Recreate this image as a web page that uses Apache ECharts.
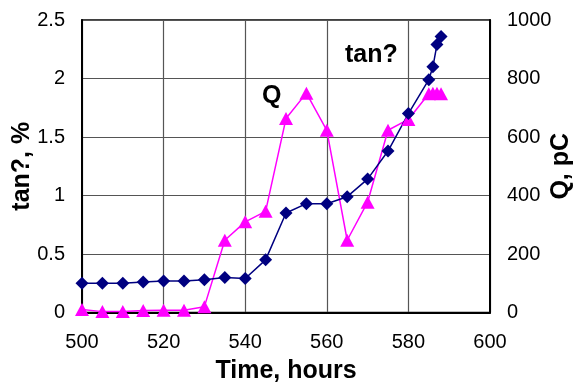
<!DOCTYPE html>
<html><head><meta charset="utf-8">
<script src="https://cdn.jsdelivr.net/npm/echarts@6/dist/echarts.min.js"></script>
<style>html,body{margin:0;padding:0;background:#fff}#c{width:575px;height:385px}</style>
</head><body><div id="c"></div>
<script>
const tanTime = [500,505,510,515,520,525,530,535,540,545,550,555,560,565,570,575,580,585,586,587,588];
const tanVal  = [0.25,0.25,0.25,0.26,0.27,0.27,0.28,0.30,0.29,0.45,0.85,0.93,0.93,0.99,1.14,1.38,1.70,1.99,2.10,2.29,2.36];
const qTime = [500,505,510,515,520,525,530,535,540,545,550,555,560,565,570,575,580,585,586,587,588];
const qVal  = [10,3,3,7,8,8,20,247,310,346,663,750,623,247,377,623,660,748,750,750,748];
const xTicks = [500,520,540,560,580,600];

const chart = echarts.init(document.getElementById('c'), null, {renderer:'canvas'});
const ff = '"Liberation Sans", Arial, sans-serif';
chart.setOption({
  animation:false,
  backgroundColor:'#fff',
  grid:{left:82,right:85,top:20,bottom:72.5,show:true,borderColor:'#000',borderWidth:1.5,
        containLabel:false,outerBoundsMode:'none'},
  xAxis:{type:'value',min:500,max:600,interval:20,
    name:'Time, hours',nameLocation:'middle',nameGap:46,nameMoveOverlap:false,
    nameTextStyle:{fontFamily:ff,fontSize:25,fontWeight:'bold',color:'#000'},
    axisLine:{show:true,lineStyle:{color:'#000',width:2}},
    axisTick:{show:false},
    axisLabel:{fontFamily:ff,fontSize:20,color:'#000',margin:20},
    splitLine:{show:true,lineStyle:{color:'#555',width:1.2}}},
  yAxis:[{type:'value',min:0,max:2.5,interval:0.5,position:'left',
    name:'tan?, %',nameLocation:'middle',nameGap:47,nameRotate:90,nameMoveOverlap:false,
    nameTextStyle:{fontFamily:ff,fontSize:25,fontWeight:'bold',color:'#000'},
    axisLine:{show:true,lineStyle:{color:'#000',width:2}},
    axisTick:{show:false},
    axisLabel:{fontFamily:ff,fontSize:20,color:'#000',margin:17},
    splitLine:{show:true,lineStyle:{color:'#555',width:1.2}}},
   {type:'value',min:0,max:1000,interval:200,position:'right',
    name:'Q, pC',nameLocation:'middle',nameGap:59,nameRotate:90,nameMoveOverlap:false,
    nameTextStyle:{fontFamily:ff,fontSize:25,fontWeight:'bold',color:'#000'},
    axisLine:{show:true,lineStyle:{color:'#000',width:2}},
    axisTick:{show:false},
    axisLabel:{fontFamily:ff,fontSize:20,color:'#000',margin:17,formatter:v=>String(v)},
    splitLine:{show:false}}],
  series:[
    {type:'line',yAxisIndex:1,data:qTime.map((t,i)=>[t,qVal[i]]),
     symbol:'triangle',symbolSize:[14,13],
     lineStyle:{color:'#FF00FF',width:1.5},itemStyle:{color:'#FF00FF'}},
    {type:'line',yAxisIndex:0,data:tanTime.map((t,i)=>[t,tanVal[i]]),
     symbol:'diamond',symbolSize:[13,13],
     lineStyle:{color:'#000080',width:1.5},itemStyle:{color:'#000080'}}
  ],
  graphic:[
    {type:'text',left:262,top:84,style:{text:'Q',font:'bold 25px '+ff,fill:'#000'}},
    {type:'text',left:345,top:43,style:{text:'tan?',font:'bold 25px '+ff,fill:'#000'}}
  ]
});
</script></body></html>
